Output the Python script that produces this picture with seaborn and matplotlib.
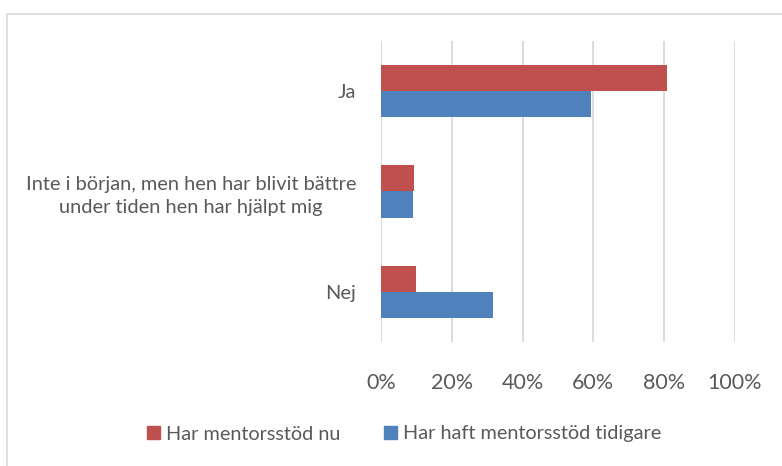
import pandas as pd
import matplotlib.pyplot as plt
import matplotlib.patches as mpatches
from matplotlib.ticker import PercentFormatter
import seaborn as sns

# data
categories = ["Ja",
              "Inte i början, men hen har blivit bättre\nunder tiden hen har hjälpt mig",
              "Nej"]
series = ["Har mentorsstöd nu", "Har haft mentorsstöd tidigare"]
nu = [0.807, 0.093, 0.100]
tidigare = [0.594, 0.090, 0.315]
colors = ["#C0504D", "#4F81BD"]
xticks = [0, 0.2, 0.4, 0.6, 0.8, 1.0]

df = pd.DataFrame({
    "kategori": categories * 2,
    "serie": [series[0]] * 3 + [series[1]] * 3,
    "andel": nu + tidigare,
})

sns.set_theme(style="white")
plt.rcParams["font.family"] = ["Lato", "DejaVu Sans"]
text_col = "#595959"

fig = plt.figure(figsize=(7.82, 4.66), dpi=100)
ax = fig.add_axes([381 / 782, 1 - 342 / 466, 354 / 782, 301 / 466])

sns.barplot(data=df, x="andel", y="kategori", hue="serie", order=categories,
            hue_order=series, palette=colors, orient="h", width=0.52,
            saturation=1, linewidth=0, ax=ax, legend=False)

ax.set_xlim(0, 1.0)
ax.set_xticks(xticks)
ax.xaxis.set_major_formatter(PercentFormatter(1.0, decimals=0))
ax.grid(axis="x", color="#D9D9D9", linewidth=1.3)
ax.set_axisbelow(True)
for s in ax.spines.values():
    s.set_visible(False)
ax.set_xlabel("")
ax.set_ylabel("")
ax.tick_params(axis="x", length=0, pad=22, labelsize=15.5, labelcolor=text_col)
ax.tick_params(axis="y", length=0, pad=18, labelsize=14.4, labelcolor=text_col)
for lab in ax.get_yticklabels():
    lab.set_multialignment("center")
    lab.set_linespacing(1.4)

# outer chart frame (top and left edges visible)
fig.patches.append(mpatches.Rectangle((7 / 782, -0.05), 1.0, 1 - 14 / 466 + 0.05,
                                      transform=fig.transFigure, fill=False,
                                      edgecolor="#D9D9D9", linewidth=1.2))

handles = [mpatches.Patch(color=c, label=s) for c, s in zip(colors, series)]
fig.legend(handles=handles, loc="center", bbox_to_anchor=(404 / 782, 1 - 434 / 466),
           ncol=2, frameon=False, fontsize=14.3, labelcolor=text_col,
           handlelength=0.65, handleheight=0.65, handletextpad=0.3, columnspacing=2.2)

plt.savefig("out.png", dpi=100)
